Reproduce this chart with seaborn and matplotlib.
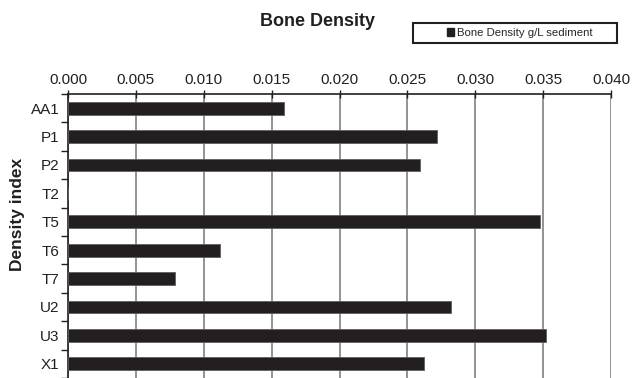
import matplotlib
matplotlib.use("Agg")
import matplotlib.pyplot as plt
import seaborn as sns
import pandas as pd
from matplotlib.patches import Patch, Rectangle

categories = ["AA1", "P1", "P2", "T2", "T5", "T6", "T7", "U2", "U3", "X1"]
values = [0.0159, 0.0272, 0.0259, 0.0, 0.0348, 0.0112, 0.0079, 0.0282, 0.0352, 0.0262]
xticks = [0.000, 0.005, 0.010, 0.015, 0.020, 0.025, 0.030, 0.035, 0.040]
series_name = "Bone Density g/L sediment"

df = pd.DataFrame({"site": categories, "density": values})

sns.set_theme(style="white")
plt.rcParams["font.family"] = ["Liberation Sans", "DejaVu Sans"]

W, H = 637, 378
fig = plt.figure(figsize=(W / 100, H / 100), dpi=100)
ax = fig.add_axes([68 / W, 0.0, (611 - 68) / W, (378 - 94) / H])

sns.barplot(data=df, x="density", y="site", orient="h", color="#231f20",
            width=0.45, edgecolor="#606060", linewidth=0.6, saturation=1,
            ax=ax, zorder=3)

ax.set_xlim(0, 0.040)
ax.set_ylim(9.4, -0.5)
ax.set_xticks(xticks)
ax.set_xticklabels([f"{t:.3f}" for t in xticks], fontsize=11, color="#231f20")
ax.xaxis.tick_top()
ax.xaxis.set_label_position("top")
ax.set_xlabel("")
ax.tick_params(axis="x", direction="inout", length=6, width=1, color="#231f20", pad=2, top=True, bottom=False)

ax.set_yticks(range(len(categories)))
ax.set_yticklabels(categories, fontsize=11, color="#231f20")
ax.tick_params(axis="y", length=0, pad=6, left=True)
ax.set_yticks([i + 0.5 for i in range(-1, len(categories))], minor=True)
ax.tick_params(axis="y", which="minor", direction="out", length=5, width=1, color="#231f20", left=True)
ax.set_ylabel("Density index", fontsize=12.5, fontweight="bold", color="#231f20")
ax.yaxis.set_label_coords((25 - 68) / 543, (378 - 214) / 284)

ax.grid(axis="x", color="#8a8a8d", linewidth=1.3, zorder=0)
ax.grid(axis="y", visible=False)
for s in ["right", "bottom"]:
    ax.spines[s].set_visible(False)
for s in ["left", "top"]:
    ax.spines[s].set_color("#231f20")
    ax.spines[s].set_linewidth(1.2)
ax.set_axisbelow(True)

fig.text(317 / W, 1 - 22 / H, "Bone Density", ha="center", va="center",
         fontsize=13, fontweight="bold", color="#231f20")

# legend box
bx0, by0, bx1, by1 = 413, 23, 617, 43
fig.patches.append(Rectangle((bx0 / W, 1 - by1 / H), (bx1 - bx0) / W, (by1 - by0) / H,
                             transform=fig.transFigure, fill=False,
                             edgecolor="#231f20", linewidth=1.5))
leg = fig.legend(handles=[Patch(facecolor="#231f20", edgecolor="#231f20", label=series_name)],
                 loc="center", bbox_to_anchor=(520 / W, 1 - 33 / H), fontsize=8.2,
                 frameon=False, handlelength=0.6, handleheight=0.6,
                 handletextpad=0.3, borderpad=0, borderaxespad=0)

fig.savefig("out.png", dpi=100)
